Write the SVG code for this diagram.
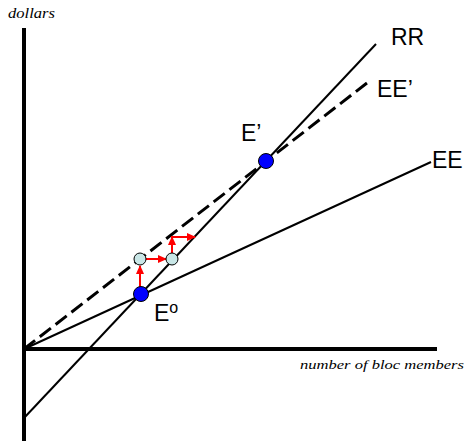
<svg xmlns="http://www.w3.org/2000/svg" width="466" height="441" viewBox="0 0 466 441">
<style>
.ax{stroke:#000;stroke-width:4;fill:none}
.ln{stroke:#000;stroke-width:2;fill:none}
.dash{stroke:#000;stroke-width:3;fill:none;stroke-dasharray:14 6}
.arr{stroke:#f00;stroke-width:2;fill:none;marker-end:url(#ah)}
.big{fill:#00f;stroke:#000;stroke-width:1}
.small{fill:#c8e6e6;stroke:#000;stroke-width:1}
.lbl{font-family:"Liberation Sans",Arial,sans-serif;font-size:23px;fill:#000}
.it{font-family:"Liberation Serif","Times New Roman",serif;font-style:italic;fill:#000}
</style>
<defs>
<marker id="ah" markerUnits="userSpaceOnUse" markerWidth="9" markerHeight="8" refX="8" refY="4" orient="auto">
<path d="M0,0 L9,4 L0,8 Z" fill="#f00"/>
</marker>
</defs>
<g id="axes">
<line class="ax" x1="24" y1="28" x2="24" y2="441"/>
<line class="ax" x1="22" y1="349" x2="437" y2="349"/>
</g>
<g id="connectors">
<line id="RR" class="ln" x1="24" y1="418" x2="376" y2="44"/>
<line id="EE" class="ln" x1="24" y1="349" x2="431" y2="162"/>
<line id="EEp" class="dash" x1="24" y1="349" x2="367" y2="83"/>
<line class="arr" x1="140" y1="287" x2="140" y2="266"/>
<line class="arr" x1="146" y1="259" x2="166" y2="259"/>
<line class="arr" x1="172" y1="253" x2="172" y2="237"/>
<line class="arr" x1="171" y1="237" x2="195" y2="237"/>
</g>
<g id="Eprime"><circle class="big" cx="266" cy="161" r="7.5"/></g>
<g id="Ezero"><circle class="big" cx="141" cy="294" r="7.5"/></g>
<g id="p1"><circle class="small" cx="140" cy="259" r="6"/></g>
<g id="p2"><circle class="small" cx="172" cy="259" r="6"/></g>
<g id="labels">
<text class="lbl" x="391" y="45">RR</text>
<text class="lbl" x="377" y="97">EE’</text>
<text class="lbl" x="432" y="168">EE</text>
<text class="lbl" x="241" y="141">E’</text>
<text class="lbl" x="154" y="321">E<tspan font-size="16" dy="-8">o</tspan></text>
<text class="it" x="8" y="18" font-size="14" textLength="47" lengthAdjust="spacingAndGlyphs">dollars</text>
<text class="it" x="300" y="369" font-size="12.5" textLength="164" lengthAdjust="spacingAndGlyphs">number of bloc members</text>
</g>
</svg>
